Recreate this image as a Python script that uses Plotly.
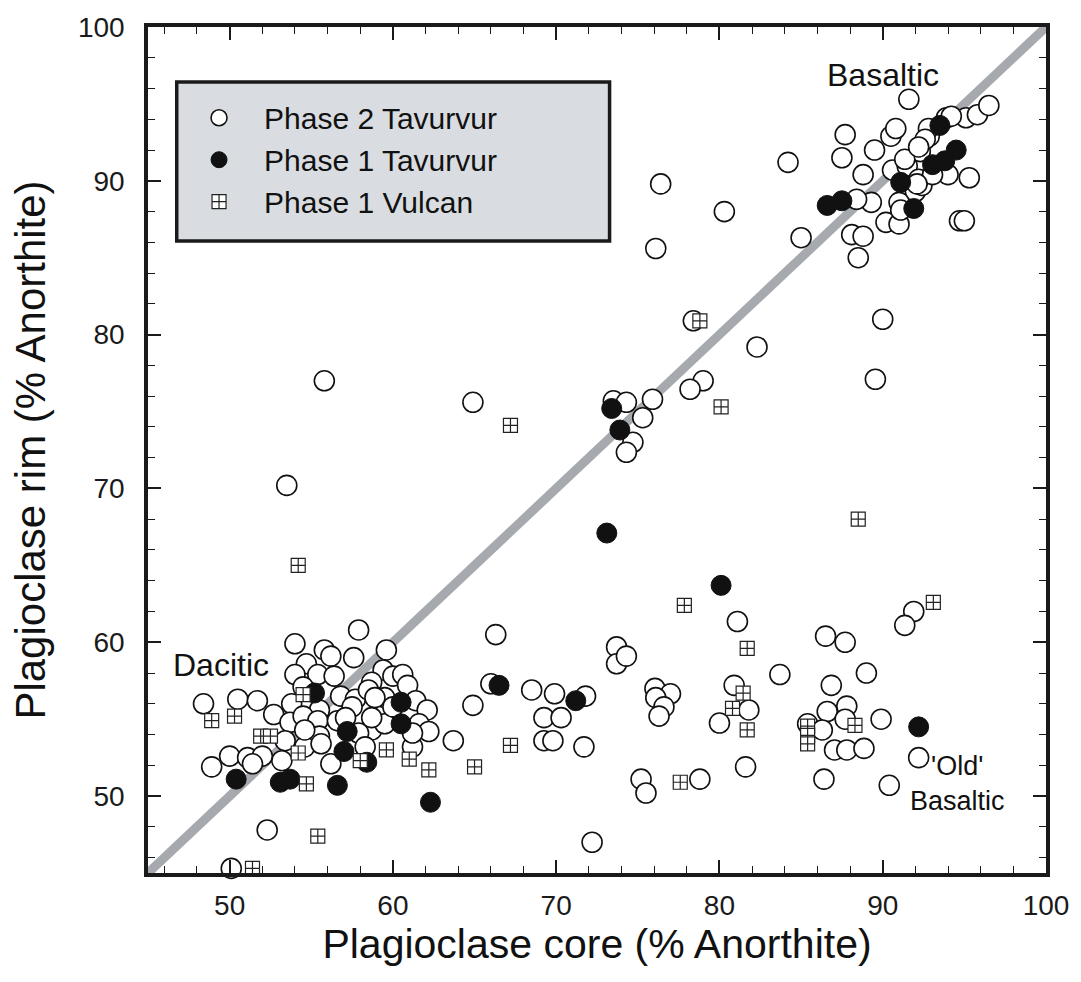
import plotly.graph_objects as go

# ---------------- data ----------------
phase2_core = [
    87.7, 90.5, 90.8, 89.5, 87.5, 84.2, 88.8, 90.6, 91.5, 92.3, 92.85, 93.9, 95.1, 95.8, 96.5,
    94.0, 95.3, 92.0, 92.4, 91.0, 89.3, 88.4, 90.2, 91.0, 94.7, 95.0, 88.1, 88.8, 85.0, 88.5,
    80.3, 90.0, 82.3, 91.6, 92.8, 92.6, 94.2, 92.2, 91.35, 92.2, 93.05, 92.1, 91.1, 76.4, 76.1,
    78.4, 89.55, 79.0, 78.2, 73.5, 74.3, 75.9, 75.3, 74.7, 74.3, 55.8, 64.9, 53.5,
    91.9, 91.35, 81.1, 86.5, 87.7, 73.7, 73.7, 74.3, 83.7, 89.0, 86.85, 76.05, 77.0, 76.1, 76.6,
    76.3, 80.9, 81.8, 80.0, 69.9, 71.8, 69.25, 70.3, 69.25, 69.8, 71.7, 86.6, 87.8, 87.7, 89.9,
    85.4, 86.3, 87.05, 87.8, 88.85, 92.2, 90.4, 86.4, 81.6, 78.8, 75.2, 75.5, 72.2,
    57.9, 66.3, 54.0, 55.8, 56.2, 57.6, 59.6, 54.7, 54.0, 55.4, 56.4, 59.4, 60.0, 60.6, 58.7,
    60.9, 54.5, 56.8, 57.7, 58.5, 59.5, 61.4, 62.1, 53.8, 55.5, 57.5, 58.9, 48.4, 50.5, 51.7,
    52.7, 53.7, 54.5, 55.4, 56.6, 58.7, 59.5, 61.6, 62.2, 63.7, 57.9, 53.4, 55.5, 54.6, 55.6,
    53.2, 56.2, 61.2, 64.9, 66.0, 68.5, 50.0, 51.1, 52.0, 48.9, 51.4, 52.3, 50.1, 54.6, 60.0,
    58.7, 57.1, 58.3, 61.2,
]
phase2_rim = [
    93.0, 92.9, 93.4, 92.0, 91.5, 91.2, 90.4, 90.7, 90.95, 91.9, 92.9, 94.1, 94.1, 94.3, 94.9,
    90.4, 90.2, 89.3, 89.7, 88.6, 88.6, 88.8, 87.3, 87.2, 87.4, 87.4, 86.5, 86.4, 86.3, 85.0,
    88.0, 81.0, 79.2, 95.3, 93.4, 92.7, 94.2, 90.1, 91.4, 92.2, 90.4, 89.8, 88.1, 89.8, 85.6,
    80.9, 77.1, 77.0, 76.45, 75.7, 75.6, 75.8, 74.6, 73.0, 72.35, 77.0, 75.6, 70.2,
    62.0, 61.1, 61.35, 60.4, 60.0, 59.7, 58.6, 59.1, 57.9, 58.0, 57.2, 57.0, 56.65, 56.4, 55.8,
    55.2, 57.2, 55.6, 54.75, 56.65, 56.5, 55.1, 55.1, 53.6, 53.6, 53.2, 55.5, 55.85, 55.0, 55.0,
    54.7, 54.3, 53.0, 53.0, 53.1, 52.5, 50.7, 51.1, 51.9, 51.1, 51.1, 50.2, 47.0,
    60.8, 60.5, 59.9, 59.5, 59.1, 59.0, 59.5, 58.6, 57.9, 57.9, 57.8, 58.2, 57.8, 57.9, 57.4,
    57.2, 57.1, 56.5, 56.3, 56.9, 56.4, 56.2, 55.6, 56.0, 55.6, 55.8, 56.4, 56.0, 56.3, 56.2,
    55.3, 54.8, 55.2, 54.9, 54.9, 54.3, 54.7, 54.7, 54.2, 53.6, 54.1, 53.6, 53.9, 53.2, 53.4,
    52.3, 52.1, 53.2, 55.9, 57.3, 56.9, 52.6, 52.5, 52.6, 51.9, 52.1, 47.8, 45.3, 54.3, 55.8,
    55.1, 55.1, 53.2, 54.1,
]

phase1_tav_core = [
    93.5, 94.5, 93.8, 93.05, 91.1, 91.9, 86.6, 87.5, 73.4, 73.9, 73.1, 80.1, 71.2, 92.2,
    66.5, 55.2, 60.5, 60.5, 57.2, 57.0, 58.4, 50.4, 53.1, 53.7, 56.6, 62.3,
]
phase1_tav_rim = [
    93.6, 92.0, 91.3, 91.05, 89.9, 88.2, 88.4, 88.7, 75.2, 73.8, 67.1, 63.7, 56.2, 54.5,
    57.2, 56.7, 56.1, 54.7, 54.2, 52.9, 52.2, 51.1, 50.9, 51.1, 50.7, 49.6,
]

phase1_vul_core = [
    78.8, 80.1, 67.2, 54.2, 88.5, 93.1, 77.85, 81.7, 81.45, 80.8, 81.7, 88.3, 85.4, 85.4,
    85.4, 77.6, 54.5, 50.3, 48.9, 51.9, 52.5, 54.2, 58.0, 59.6, 61.0, 62.2, 65.0, 67.2,
    54.7, 55.4, 51.4,
]
phase1_vul_rim = [
    80.9, 75.3, 74.1, 65.0, 68.0, 62.6, 62.4, 59.6, 56.7, 55.7, 54.3, 54.6, 54.55, 53.95,
    53.4, 50.9, 56.6, 55.2, 54.9, 53.9, 53.9, 52.8, 52.3, 53.0, 52.4, 51.7, 51.9, 53.3,
    50.8, 47.4, 45.3,
]

equal_line = [45, 100]
x_ticks = [50, 60, 70, 80, 90, 100]
y_ticks = [50, 60, 70, 80, 90, 100]

FONT = "Arial, Liberation Sans, sans-serif"

fig = go.Figure()

# 1:1 line
fig.add_trace(go.Scatter(
    x=equal_line, y=equal_line, mode="lines",
    line=dict(color="#a6aaaf", width=9),
    showlegend=False, hoverinfo="skip",
))

fig.add_trace(go.Scatter(
    x=phase2_core, y=phase2_rim, mode="markers", name="Phase 2 Tavurvur",
    marker=dict(symbol="circle", size=20, color="white",
                line=dict(color="#111111", width=1.6)),
    cliponaxis=False,
))
fig.add_trace(go.Scatter(
    x=phase1_tav_core, y=phase1_tav_rim, mode="markers", name="Phase 1 Tavurvur",
    marker=dict(symbol="circle", size=20, color="#111111",
                line=dict(color="#111111", width=1)),
    cliponaxis=False,
))
fig.add_trace(go.Scatter(
    x=phase1_vul_core, y=phase1_vul_rim, mode="markers", name="Phase 1 Vulcan",
    marker=dict(symbol="square-cross", size=14, color="white",
                line=dict(color="#222222", width=1.2)),
    cliponaxis=False,
))

# legend box
fig.add_shape(type="rect", xref="paper", yref="paper",
              x0=0.032, x1=0.514, y0=0.747, y1=0.935,
              fillcolor="#d9dde1", line=dict(color="#1a1a1a", width=3.5),
              layer="below")

# annotations
fig.add_annotation(x=90.0, y=96.86, text="Basaltic", showarrow=False,
                   font=dict(family=FONT, size=32, color="#111111"))
fig.add_annotation(x=49.5, y=58.5, text="Dacitic", showarrow=False,
                   font=dict(family=FONT, size=32, color="#111111"))
fig.add_annotation(x=94.55, y=50.8, text="'Old'<br>Basaltic", showarrow=False,
                   font=dict(family=FONT, size=27, color="#111111"))

axis_common = dict(
    range=[45, 100], showgrid=False, zeroline=False,
    showline=True, linecolor="#1a1a1a", linewidth=3.5, mirror="ticks",
    ticks="inside", ticklen=13, tickwidth=1.5, tickcolor="#1a1a1a",
    tickfont=dict(family=FONT, size=28, color="#1a1a1a"),
    minor=dict(dtick=2, ticks="inside", ticklen=7, tickwidth=1.2, tickcolor="#1a1a1a"),
)

fig.update_layout(
    width=1081, height=982,
    margin=dict(l=148, r=33, t=23, b=109),
    paper_bgcolor="white", plot_bgcolor="white",
    font=dict(family=FONT, color="#111111"),
    xaxis=dict(**axis_common, tickvals=x_ticks,
               ticklabelstandoff=5,
               title=dict(text="Plagioclase core (% Anorthite)",
                          font=dict(family=FONT, size=41, color="#111111"),
                          standoff=4)),
    yaxis=dict(**axis_common, tickvals=y_ticks,
               ticklabelstandoff=14,
               title=dict(text="Plagioclase rim (% Anorthite)",
                          font=dict(family=FONT, size=42, color="#111111"),
                          standoff=20)),
    legend=dict(x=0.029, y=0.9235, xanchor="left", yanchor="top",
                bgcolor="rgba(0,0,0,0)", borderwidth=0,
                font=dict(family=FONT, size=30, color="#111111"),
                itemwidth=80, tracegroupgap=0),
    showlegend=True,
)

fig.write_html("out.html")
